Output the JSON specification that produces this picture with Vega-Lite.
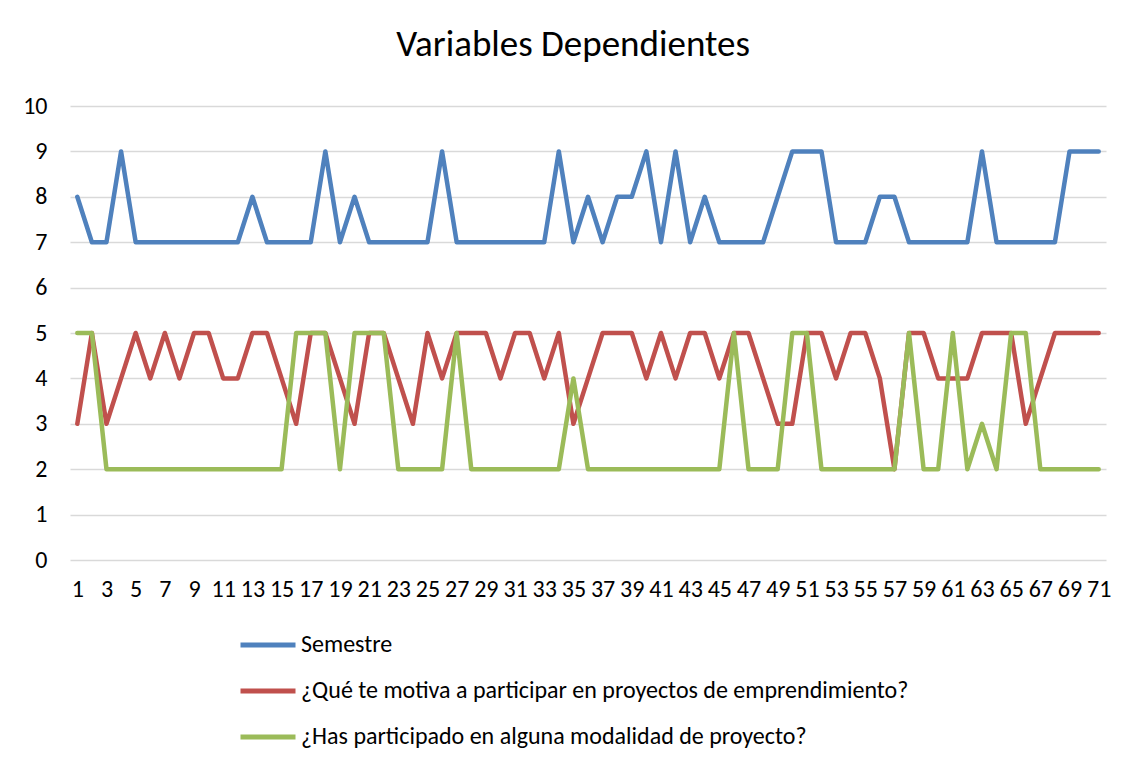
{
  "$schema": "https://vega.github.io/schema/vega-lite/v6.json",
  "width": 1036,
  "height": 454,
  "autosize": "none",
  "padding": {"left": 70, "top": 106, "right": 26, "bottom": 205},
  "background": "white",
  "title": {
    "text": "Variables Dependientes",
    "font": "Carlito, Lato",
    "fontSize": 37,
    "fontWeight": "normal",
    "color": "#000000",
    "anchor": "middle",
    "offset": 30,
    "dx": -15
  },
  "config": {
    "view": {"stroke": null},
    "font": "Carlito, Lato"
  },
  "data": {
    "values": [
      {"i":1,"s":"Semestre","v":8},{"i":2,"s":"Semestre","v":7},{"i":3,"s":"Semestre","v":7},{"i":4,"s":"Semestre","v":9},{"i":5,"s":"Semestre","v":7},{"i":6,"s":"Semestre","v":7},{"i":7,"s":"Semestre","v":7},{"i":8,"s":"Semestre","v":7},{"i":9,"s":"Semestre","v":7},{"i":10,"s":"Semestre","v":7},
      {"i":11,"s":"Semestre","v":7},{"i":12,"s":"Semestre","v":7},{"i":13,"s":"Semestre","v":8},{"i":14,"s":"Semestre","v":7},{"i":15,"s":"Semestre","v":7},{"i":16,"s":"Semestre","v":7},{"i":17,"s":"Semestre","v":7},{"i":18,"s":"Semestre","v":9},{"i":19,"s":"Semestre","v":7},{"i":20,"s":"Semestre","v":8},
      {"i":21,"s":"Semestre","v":7},{"i":22,"s":"Semestre","v":7},{"i":23,"s":"Semestre","v":7},{"i":24,"s":"Semestre","v":7},{"i":25,"s":"Semestre","v":7},{"i":26,"s":"Semestre","v":9},{"i":27,"s":"Semestre","v":7},{"i":28,"s":"Semestre","v":7},{"i":29,"s":"Semestre","v":7},{"i":30,"s":"Semestre","v":7},
      {"i":31,"s":"Semestre","v":7},{"i":32,"s":"Semestre","v":7},{"i":33,"s":"Semestre","v":7},{"i":34,"s":"Semestre","v":9},{"i":35,"s":"Semestre","v":7},{"i":36,"s":"Semestre","v":8},{"i":37,"s":"Semestre","v":7},{"i":38,"s":"Semestre","v":8},{"i":39,"s":"Semestre","v":8},{"i":40,"s":"Semestre","v":9},
      {"i":41,"s":"Semestre","v":7},{"i":42,"s":"Semestre","v":9},{"i":43,"s":"Semestre","v":7},{"i":44,"s":"Semestre","v":8},{"i":45,"s":"Semestre","v":7},{"i":46,"s":"Semestre","v":7},{"i":47,"s":"Semestre","v":7},{"i":48,"s":"Semestre","v":7},{"i":49,"s":"Semestre","v":8},{"i":50,"s":"Semestre","v":9},
      {"i":51,"s":"Semestre","v":9},{"i":52,"s":"Semestre","v":9},{"i":53,"s":"Semestre","v":7},{"i":54,"s":"Semestre","v":7},{"i":55,"s":"Semestre","v":7},{"i":56,"s":"Semestre","v":8},{"i":57,"s":"Semestre","v":8},{"i":58,"s":"Semestre","v":7},{"i":59,"s":"Semestre","v":7},{"i":60,"s":"Semestre","v":7},
      {"i":61,"s":"Semestre","v":7},{"i":62,"s":"Semestre","v":7},{"i":63,"s":"Semestre","v":9},{"i":64,"s":"Semestre","v":7},{"i":65,"s":"Semestre","v":7},{"i":66,"s":"Semestre","v":7},{"i":67,"s":"Semestre","v":7},{"i":68,"s":"Semestre","v":7},{"i":69,"s":"Semestre","v":9},{"i":70,"s":"Semestre","v":9},
      {"i":71,"s":"Semestre","v":9},
      {"i":1,"s":"¿Qué te motiva a participar en proyectos de emprendimiento?","v":3},{"i":2,"s":"¿Qué te motiva a participar en proyectos de emprendimiento?","v":5},{"i":3,"s":"¿Qué te motiva a participar en proyectos de emprendimiento?","v":3},{"i":4,"s":"¿Qué te motiva a participar en proyectos de emprendimiento?","v":4},{"i":5,"s":"¿Qué te motiva a participar en proyectos de emprendimiento?","v":5},{"i":6,"s":"¿Qué te motiva a participar en proyectos de emprendimiento?","v":4},{"i":7,"s":"¿Qué te motiva a participar en proyectos de emprendimiento?","v":5},{"i":8,"s":"¿Qué te motiva a participar en proyectos de emprendimiento?","v":4},{"i":9,"s":"¿Qué te motiva a participar en proyectos de emprendimiento?","v":5},{"i":10,"s":"¿Qué te motiva a participar en proyectos de emprendimiento?","v":5},
      {"i":11,"s":"¿Qué te motiva a participar en proyectos de emprendimiento?","v":4},{"i":12,"s":"¿Qué te motiva a participar en proyectos de emprendimiento?","v":4},{"i":13,"s":"¿Qué te motiva a participar en proyectos de emprendimiento?","v":5},{"i":14,"s":"¿Qué te motiva a participar en proyectos de emprendimiento?","v":5},{"i":15,"s":"¿Qué te motiva a participar en proyectos de emprendimiento?","v":4},{"i":16,"s":"¿Qué te motiva a participar en proyectos de emprendimiento?","v":3},{"i":17,"s":"¿Qué te motiva a participar en proyectos de emprendimiento?","v":5},{"i":18,"s":"¿Qué te motiva a participar en proyectos de emprendimiento?","v":5},{"i":19,"s":"¿Qué te motiva a participar en proyectos de emprendimiento?","v":4},{"i":20,"s":"¿Qué te motiva a participar en proyectos de emprendimiento?","v":3},
      {"i":21,"s":"¿Qué te motiva a participar en proyectos de emprendimiento?","v":5},{"i":22,"s":"¿Qué te motiva a participar en proyectos de emprendimiento?","v":5},{"i":23,"s":"¿Qué te motiva a participar en proyectos de emprendimiento?","v":4},{"i":24,"s":"¿Qué te motiva a participar en proyectos de emprendimiento?","v":3},{"i":25,"s":"¿Qué te motiva a participar en proyectos de emprendimiento?","v":5},{"i":26,"s":"¿Qué te motiva a participar en proyectos de emprendimiento?","v":4},{"i":27,"s":"¿Qué te motiva a participar en proyectos de emprendimiento?","v":5},{"i":28,"s":"¿Qué te motiva a participar en proyectos de emprendimiento?","v":5},{"i":29,"s":"¿Qué te motiva a participar en proyectos de emprendimiento?","v":5},{"i":30,"s":"¿Qué te motiva a participar en proyectos de emprendimiento?","v":4},
      {"i":31,"s":"¿Qué te motiva a participar en proyectos de emprendimiento?","v":5},{"i":32,"s":"¿Qué te motiva a participar en proyectos de emprendimiento?","v":5},{"i":33,"s":"¿Qué te motiva a participar en proyectos de emprendimiento?","v":4},{"i":34,"s":"¿Qué te motiva a participar en proyectos de emprendimiento?","v":5},{"i":35,"s":"¿Qué te motiva a participar en proyectos de emprendimiento?","v":3},{"i":36,"s":"¿Qué te motiva a participar en proyectos de emprendimiento?","v":4},{"i":37,"s":"¿Qué te motiva a participar en proyectos de emprendimiento?","v":5},{"i":38,"s":"¿Qué te motiva a participar en proyectos de emprendimiento?","v":5},{"i":39,"s":"¿Qué te motiva a participar en proyectos de emprendimiento?","v":5},{"i":40,"s":"¿Qué te motiva a participar en proyectos de emprendimiento?","v":4},
      {"i":41,"s":"¿Qué te motiva a participar en proyectos de emprendimiento?","v":5},{"i":42,"s":"¿Qué te motiva a participar en proyectos de emprendimiento?","v":4},{"i":43,"s":"¿Qué te motiva a participar en proyectos de emprendimiento?","v":5},{"i":44,"s":"¿Qué te motiva a participar en proyectos de emprendimiento?","v":5},{"i":45,"s":"¿Qué te motiva a participar en proyectos de emprendimiento?","v":4},{"i":46,"s":"¿Qué te motiva a participar en proyectos de emprendimiento?","v":5},{"i":47,"s":"¿Qué te motiva a participar en proyectos de emprendimiento?","v":5},{"i":48,"s":"¿Qué te motiva a participar en proyectos de emprendimiento?","v":4},{"i":49,"s":"¿Qué te motiva a participar en proyectos de emprendimiento?","v":3},{"i":50,"s":"¿Qué te motiva a participar en proyectos de emprendimiento?","v":3},
      {"i":51,"s":"¿Qué te motiva a participar en proyectos de emprendimiento?","v":5},{"i":52,"s":"¿Qué te motiva a participar en proyectos de emprendimiento?","v":5},{"i":53,"s":"¿Qué te motiva a participar en proyectos de emprendimiento?","v":4},{"i":54,"s":"¿Qué te motiva a participar en proyectos de emprendimiento?","v":5},{"i":55,"s":"¿Qué te motiva a participar en proyectos de emprendimiento?","v":5},{"i":56,"s":"¿Qué te motiva a participar en proyectos de emprendimiento?","v":4},{"i":57,"s":"¿Qué te motiva a participar en proyectos de emprendimiento?","v":2},{"i":58,"s":"¿Qué te motiva a participar en proyectos de emprendimiento?","v":5},{"i":59,"s":"¿Qué te motiva a participar en proyectos de emprendimiento?","v":5},{"i":60,"s":"¿Qué te motiva a participar en proyectos de emprendimiento?","v":4},
      {"i":61,"s":"¿Qué te motiva a participar en proyectos de emprendimiento?","v":4},{"i":62,"s":"¿Qué te motiva a participar en proyectos de emprendimiento?","v":4},{"i":63,"s":"¿Qué te motiva a participar en proyectos de emprendimiento?","v":5},{"i":64,"s":"¿Qué te motiva a participar en proyectos de emprendimiento?","v":5},{"i":65,"s":"¿Qué te motiva a participar en proyectos de emprendimiento?","v":5},{"i":66,"s":"¿Qué te motiva a participar en proyectos de emprendimiento?","v":3},{"i":67,"s":"¿Qué te motiva a participar en proyectos de emprendimiento?","v":4},{"i":68,"s":"¿Qué te motiva a participar en proyectos de emprendimiento?","v":5},{"i":69,"s":"¿Qué te motiva a participar en proyectos de emprendimiento?","v":5},{"i":70,"s":"¿Qué te motiva a participar en proyectos de emprendimiento?","v":5},
      {"i":71,"s":"¿Qué te motiva a participar en proyectos de emprendimiento?","v":5},
      {"i":1,"s":"¿Has participado en alguna modalidad de proyecto?","v":5},{"i":2,"s":"¿Has participado en alguna modalidad de proyecto?","v":5},{"i":3,"s":"¿Has participado en alguna modalidad de proyecto?","v":2},{"i":4,"s":"¿Has participado en alguna modalidad de proyecto?","v":2},{"i":5,"s":"¿Has participado en alguna modalidad de proyecto?","v":2},{"i":6,"s":"¿Has participado en alguna modalidad de proyecto?","v":2},{"i":7,"s":"¿Has participado en alguna modalidad de proyecto?","v":2},{"i":8,"s":"¿Has participado en alguna modalidad de proyecto?","v":2},{"i":9,"s":"¿Has participado en alguna modalidad de proyecto?","v":2},{"i":10,"s":"¿Has participado en alguna modalidad de proyecto?","v":2},
      {"i":11,"s":"¿Has participado en alguna modalidad de proyecto?","v":2},{"i":12,"s":"¿Has participado en alguna modalidad de proyecto?","v":2},{"i":13,"s":"¿Has participado en alguna modalidad de proyecto?","v":2},{"i":14,"s":"¿Has participado en alguna modalidad de proyecto?","v":2},{"i":15,"s":"¿Has participado en alguna modalidad de proyecto?","v":2},{"i":16,"s":"¿Has participado en alguna modalidad de proyecto?","v":5},{"i":17,"s":"¿Has participado en alguna modalidad de proyecto?","v":5},{"i":18,"s":"¿Has participado en alguna modalidad de proyecto?","v":5},{"i":19,"s":"¿Has participado en alguna modalidad de proyecto?","v":2},{"i":20,"s":"¿Has participado en alguna modalidad de proyecto?","v":5},
      {"i":21,"s":"¿Has participado en alguna modalidad de proyecto?","v":5},{"i":22,"s":"¿Has participado en alguna modalidad de proyecto?","v":5},{"i":23,"s":"¿Has participado en alguna modalidad de proyecto?","v":2},{"i":24,"s":"¿Has participado en alguna modalidad de proyecto?","v":2},{"i":25,"s":"¿Has participado en alguna modalidad de proyecto?","v":2},{"i":26,"s":"¿Has participado en alguna modalidad de proyecto?","v":2},{"i":27,"s":"¿Has participado en alguna modalidad de proyecto?","v":5},{"i":28,"s":"¿Has participado en alguna modalidad de proyecto?","v":2},{"i":29,"s":"¿Has participado en alguna modalidad de proyecto?","v":2},{"i":30,"s":"¿Has participado en alguna modalidad de proyecto?","v":2},
      {"i":31,"s":"¿Has participado en alguna modalidad de proyecto?","v":2},{"i":32,"s":"¿Has participado en alguna modalidad de proyecto?","v":2},{"i":33,"s":"¿Has participado en alguna modalidad de proyecto?","v":2},{"i":34,"s":"¿Has participado en alguna modalidad de proyecto?","v":2},{"i":35,"s":"¿Has participado en alguna modalidad de proyecto?","v":4},{"i":36,"s":"¿Has participado en alguna modalidad de proyecto?","v":2},{"i":37,"s":"¿Has participado en alguna modalidad de proyecto?","v":2},{"i":38,"s":"¿Has participado en alguna modalidad de proyecto?","v":2},{"i":39,"s":"¿Has participado en alguna modalidad de proyecto?","v":2},{"i":40,"s":"¿Has participado en alguna modalidad de proyecto?","v":2},
      {"i":41,"s":"¿Has participado en alguna modalidad de proyecto?","v":2},{"i":42,"s":"¿Has participado en alguna modalidad de proyecto?","v":2},{"i":43,"s":"¿Has participado en alguna modalidad de proyecto?","v":2},{"i":44,"s":"¿Has participado en alguna modalidad de proyecto?","v":2},{"i":45,"s":"¿Has participado en alguna modalidad de proyecto?","v":2},{"i":46,"s":"¿Has participado en alguna modalidad de proyecto?","v":5},{"i":47,"s":"¿Has participado en alguna modalidad de proyecto?","v":2},{"i":48,"s":"¿Has participado en alguna modalidad de proyecto?","v":2},{"i":49,"s":"¿Has participado en alguna modalidad de proyecto?","v":2},{"i":50,"s":"¿Has participado en alguna modalidad de proyecto?","v":5},
      {"i":51,"s":"¿Has participado en alguna modalidad de proyecto?","v":5},{"i":52,"s":"¿Has participado en alguna modalidad de proyecto?","v":2},{"i":53,"s":"¿Has participado en alguna modalidad de proyecto?","v":2},{"i":54,"s":"¿Has participado en alguna modalidad de proyecto?","v":2},{"i":55,"s":"¿Has participado en alguna modalidad de proyecto?","v":2},{"i":56,"s":"¿Has participado en alguna modalidad de proyecto?","v":2},{"i":57,"s":"¿Has participado en alguna modalidad de proyecto?","v":2},{"i":58,"s":"¿Has participado en alguna modalidad de proyecto?","v":5},{"i":59,"s":"¿Has participado en alguna modalidad de proyecto?","v":2},{"i":60,"s":"¿Has participado en alguna modalidad de proyecto?","v":2},
      {"i":61,"s":"¿Has participado en alguna modalidad de proyecto?","v":5},{"i":62,"s":"¿Has participado en alguna modalidad de proyecto?","v":2},{"i":63,"s":"¿Has participado en alguna modalidad de proyecto?","v":3},{"i":64,"s":"¿Has participado en alguna modalidad de proyecto?","v":2},{"i":65,"s":"¿Has participado en alguna modalidad de proyecto?","v":5},{"i":66,"s":"¿Has participado en alguna modalidad de proyecto?","v":5},{"i":67,"s":"¿Has participado en alguna modalidad de proyecto?","v":2},{"i":68,"s":"¿Has participado en alguna modalidad de proyecto?","v":2},{"i":69,"s":"¿Has participado en alguna modalidad de proyecto?","v":2},{"i":70,"s":"¿Has participado en alguna modalidad de proyecto?","v":2},
      {"i":71,"s":"¿Has participado en alguna modalidad de proyecto?","v":2}
    ]
  },
  "mark": {"type": "line", "strokeWidth": 4.5, "strokeCap": "round", "strokeJoin": "round"},
  "encoding": {
    "x": {
      "field": "i", "type": "quantitative",
      "scale": {"domain": [0.5, 71.5], "nice": false, "zero": false},
      "axis": {
        "title": null,
        "values": [1,3,5,7,9,11,13,15,17,19,21,23,25,27,29,31,33,35,37,39,41,43,45,47,49,51,53,55,57,59,61,63,65,67,69,71],
        "grid": false, "ticks": false, "domain": false,
        "labelFontSize": 24, "labelColor": "#000000", "labelPadding": 17,
        "labelOverlap": false, "labelFlush": false, "labelFont": "Carlito, Lato"
      }
    },
    "y": {
      "field": "v", "type": "quantitative",
      "scale": {"domain": [0, 10], "nice": false},
      "axis": {
        "title": null,
        "values": [0,1,2,3,4,5,6,7,8,9,10],
        "ticks": false, "domain": false,
        "gridColor": "#d9d9d9", "gridWidth": 1.5,
        "labelFontSize": 24, "labelColor": "#000000", "labelPadding": 23,
        "labelFont": "Carlito, Lato"
      }
    },
    "color": {
      "field": "s", "type": "nominal",
      "scale": {
        "domain": ["Semestre", "¿Qué te motiva a participar en proyectos de emprendimiento?", "¿Has participado en alguna modalidad de proyecto?"],
        "range": ["#4F81BD", "#C0504D", "#9BBB59"]
      },
      "legend": {
        "title": null,
        "orient": "none",
        "legendX": 168,
        "legendY": 509,
        "direction": "vertical",
        "symbolType": "stroke",
        "symbolSize": 3025,
        "symbolStrokeWidth": 5,
        "labelFontSize": 24,
        "labelColor": "#000000",
        "labelFont": "Carlito, Lato",
        "labelOffset": 3,
        "rowPadding": 4,
        "labelLimit": 800
      }
    }
  }
}
